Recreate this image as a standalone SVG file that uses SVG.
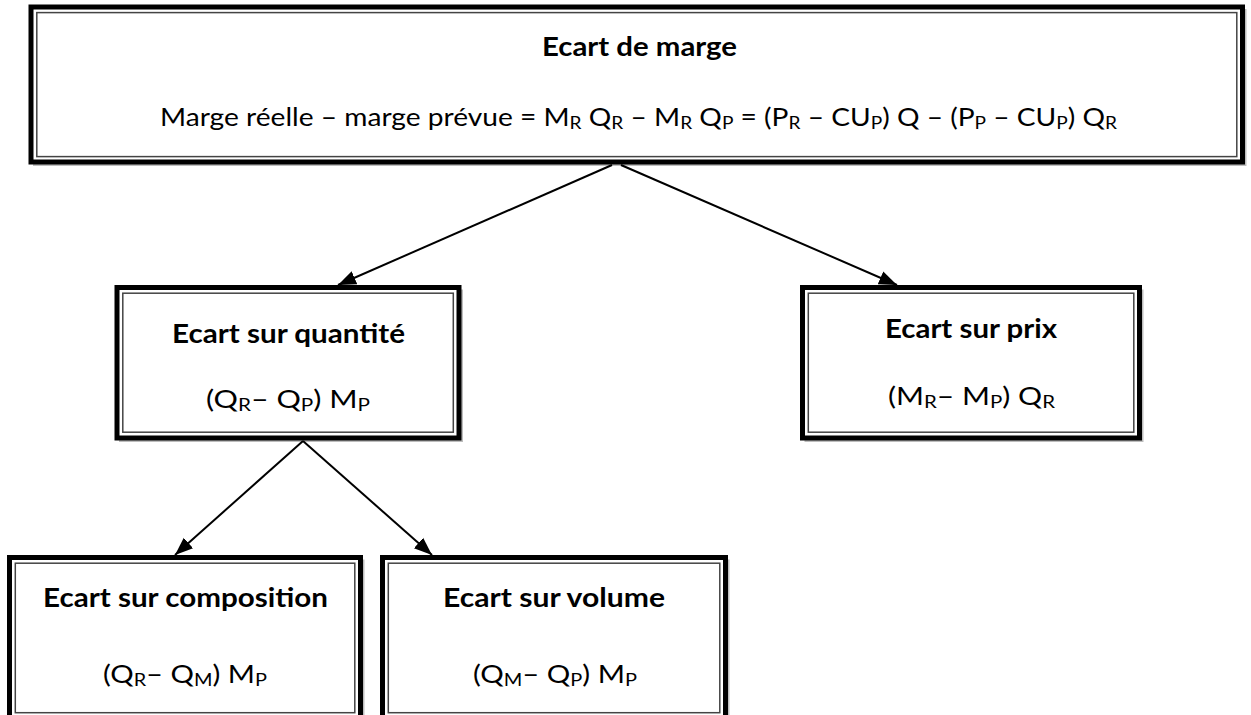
<svg xmlns="http://www.w3.org/2000/svg" width="1251" height="715" viewBox="0 0 1251 715">
  <style>
    .outer { fill: #ffffff; stroke: #000000; stroke-width: 5; }
    .inner { fill: none; stroke: #444444; stroke-width: 1.5; }
    .shadow { fill: none; stroke: #bdbdbd; stroke-width: 2; }
    .title { font-family: Lato, "Liberation Sans", sans-serif; font-weight: bold; font-size: 26px; fill: #000; }
    .formula { font-family: Lato, "Liberation Sans", sans-serif; font-size: 25px; fill: #000; }
    .sub { font-size: 17px; }
    .link { fill: none; stroke: #000000; stroke-width: 2; marker-end: url(#head); }
  </style>
  <defs>
    <marker id="head" markerUnits="userSpaceOnUse" markerWidth="20" markerHeight="20" viewBox="0 0 20 20" refX="18" refY="10" orient="auto">
      <path d="M0,3 L18,10 L0,17 Z" fill="#000000"/>
    </marker>
  </defs>

  <rect width="1251" height="715" fill="#ffffff"/>

  <!-- root: margin variance -->
  <g id="ecart-marge">
    <rect class="shadow" x="34" y="10" width="1211.5" height="155"/>
    <rect class="outer" x="31" y="7" width="1211.5" height="155"/>
    <rect class="inner" x="36.8" y="12.6" width="1200" height="144"/>
    <text class="title" x="542" y="56" textLength="195" lengthAdjust="spacingAndGlyphs">Ecart de marge</text>
    <text class="formula" x="160" y="126" textLength="957" lengthAdjust="spacingAndGlyphs">Marge réelle – marge prévue = M<tspan class="sub" dy="3">R</tspan><tspan dy="-3"> Q</tspan><tspan class="sub" dy="3">R</tspan><tspan dy="-3"> – M</tspan><tspan class="sub" dy="3">R</tspan><tspan dy="-3"> Q</tspan><tspan class="sub" dy="3">P</tspan><tspan dy="-3"> = (P</tspan><tspan class="sub" dy="3">R</tspan><tspan dy="-3"> – CU</tspan><tspan class="sub" dy="3">P</tspan><tspan dy="-3">) Q – (P</tspan><tspan class="sub" dy="3">P</tspan><tspan dy="-3"> – CU</tspan><tspan class="sub" dy="3">P</tspan><tspan dy="-3">) Q</tspan><tspan class="sub" dy="3">R</tspan></text>
  </g>

  <!-- quantity variance -->
  <g id="ecart-quantite">
    <rect class="shadow" x="120" y="290.5" width="342" height="150.5"/>
    <rect class="outer" x="117" y="287.5" width="342" height="150.5"/>
    <rect class="inner" x="122.8" y="293.2" width="330.5" height="139"/>
    <text class="title" x="172" y="343" textLength="233" lengthAdjust="spacingAndGlyphs">Ecart sur quantité</text>
    <text class="formula" x="206" y="408" textLength="164" lengthAdjust="spacingAndGlyphs">(Q<tspan class="sub" dy="3">R</tspan><tspan dy="-3">– Q</tspan><tspan class="sub" dy="3">P</tspan><tspan dy="-3">) M</tspan><tspan class="sub" dy="3">P</tspan></text>
  </g>

  <!-- price variance -->
  <g id="ecart-prix">
    <rect class="shadow" x="805.5" y="290.5" width="337" height="150.5"/>
    <rect class="outer" x="802.5" y="287.5" width="337" height="150.5"/>
    <rect class="inner" x="808.3" y="293.2" width="325.5" height="139"/>
    <text class="title" x="885" y="338" textLength="172" lengthAdjust="spacingAndGlyphs">Ecart sur prix</text>
    <text class="formula" x="888" y="405" textLength="167" lengthAdjust="spacingAndGlyphs">(M<tspan class="sub" dy="3">R</tspan><tspan dy="-3">– M</tspan><tspan class="sub" dy="3">P</tspan><tspan dy="-3">) Q</tspan><tspan class="sub" dy="3">R</tspan></text>
  </g>

  <!-- mix variance -->
  <g id="ecart-composition">
    <rect class="shadow" x="12.5" y="560.5" width="351" height="170"/>
    <rect class="outer" x="9.5" y="557.5" width="351" height="170"/>
    <rect class="inner" x="15.3" y="563.2" width="339.5" height="149.5"/>
    <text class="title" x="43" y="607" textLength="285" lengthAdjust="spacingAndGlyphs">Ecart sur composition</text>
    <text class="formula" x="103" y="683" textLength="164" lengthAdjust="spacingAndGlyphs">(Q<tspan class="sub" dy="3">R</tspan><tspan dy="-3">– Q</tspan><tspan class="sub" dy="3">M</tspan><tspan dy="-3">) M</tspan><tspan class="sub" dy="3">P</tspan></text>
  </g>

  <!-- volume variance -->
  <g id="ecart-volume">
    <rect class="shadow" x="385.5" y="560.5" width="343" height="170"/>
    <rect class="outer" x="382.5" y="557.5" width="343" height="170"/>
    <rect class="inner" x="388.3" y="563.2" width="331.5" height="149.5"/>
    <text class="title" x="443" y="607" textLength="222" lengthAdjust="spacingAndGlyphs">Ecart sur volume</text>
    <text class="formula" x="473" y="683" textLength="164" lengthAdjust="spacingAndGlyphs">(Q<tspan class="sub" dy="3">M</tspan><tspan dy="-3">– Q</tspan><tspan class="sub" dy="3">P</tspan><tspan dy="-3">) M</tspan><tspan class="sub" dy="3">P</tspan></text>
  </g>

  <!-- connectors -->
  <g id="connectors">
    <line class="link" x1="612" y1="165" x2="338" y2="285"/>
    <line class="link" x1="621" y1="165" x2="897" y2="285"/>
    <line class="link" x1="303" y1="441" x2="175" y2="555"/>
    <line class="link" x1="303" y1="441" x2="432" y2="555"/>
  </g>
</svg>
